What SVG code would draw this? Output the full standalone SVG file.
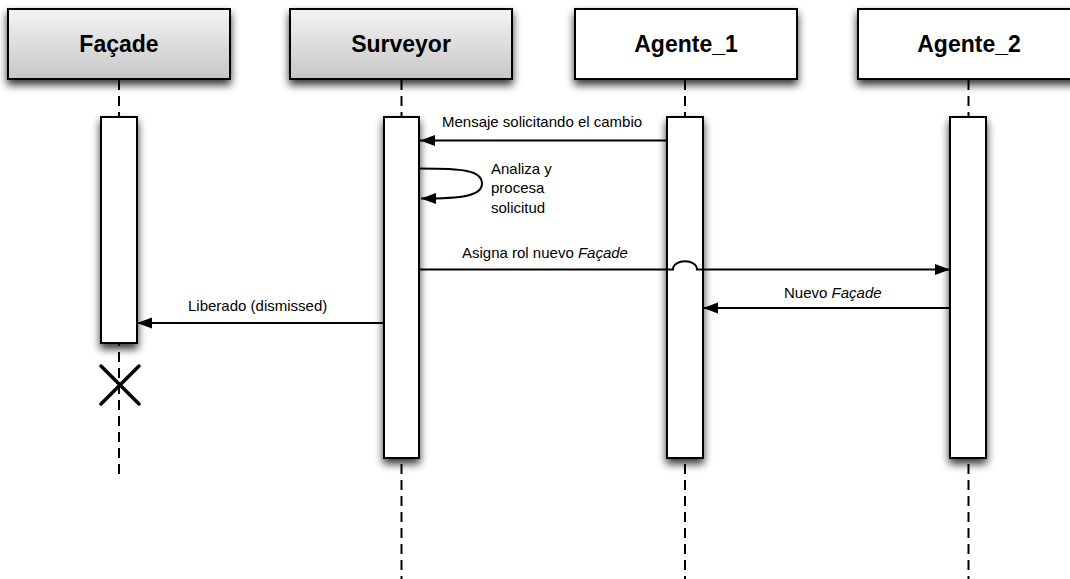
<svg xmlns="http://www.w3.org/2000/svg" width="1070" height="579" viewBox="0 0 1070 579">
  <defs>
    <linearGradient id="headGrad" x1="0" y1="0" x2="0" y2="1">
      <stop offset="0" stop-color="#f4f4f4"/>
      <stop offset="1" stop-color="#c6c6c6"/>
    </linearGradient>
    <filter id="shadow" x="-40%" y="-40%" width="180%" height="180%">
      <feGaussianBlur in="SourceAlpha" stdDeviation="4.5"/>
      <feOffset dx="0" dy="5" result="blur"/>
      <feComponentTransfer><feFuncA type="linear" slope="0.8"/></feComponentTransfer>
      <feMerge><feMergeNode/><feMergeNode in="SourceGraphic"/></feMerge>
    </filter>
    <marker id="arrow" markerUnits="userSpaceOnUse" markerWidth="16" markerHeight="12" refX="15" refY="6" orient="auto">
      <path d="M0,0.5 L15,6 L0,11.5 Z" fill="#000"/>
    </marker>
  </defs>
  <style>
    .head { stroke: #000; stroke-width: 2; }
    .gray { fill: url(#headGrad); }
    .white { fill: #fff; }
    .title { font-family: "Liberation Sans", Arial, sans-serif; font-weight: bold; font-size: 23px; text-anchor: middle; fill: #000; }
    .life { stroke: #000; stroke-width: 2; stroke-dasharray: 10 6; fill: none; }
    .act { fill: #fff; stroke: #000; stroke-width: 2; }
    .msg { stroke: #000; stroke-width: 2; fill: none; marker-end: url(#arrow); }
    .lbl { font-family: "Liberation Sans", Arial, sans-serif; font-size: 15px; fill: #000; }
  </style>

  <rect width="1070" height="579" fill="#fff"/>

  <!-- lifelines -->
  <g id="lifelines">
    <line class="life" x1="119" y1="80" x2="119" y2="478"/>
    <line class="life" x1="401.5" y1="80" x2="401.5" y2="579"/>
    <line class="life" x1="685" y1="80" x2="685" y2="579"/>
    <line class="life" x1="968.5" y1="80" x2="968.5" y2="579"/>
  </g>

  <!-- participants -->
  <g id="facade">
    <rect class="head gray" x="8" y="9" width="222" height="70" filter="url(#shadow)"/>
    <text class="title" x="119" y="52">Façade</text>
    <rect class="act" x="101" y="117" width="36" height="226" filter="url(#shadow)"/>
    <path d="M101,366 L139,404 M139,366 L101,404" stroke="#000" stroke-width="3.5" stroke-linecap="round"/>
  </g>
  <g id="surveyor">
    <rect class="head gray" x="290" y="9" width="222" height="70" filter="url(#shadow)"/>
    <text class="title" x="401" y="52">Surveyor</text>
    <rect class="act" x="384" y="117" width="35" height="341" filter="url(#shadow)"/>
  </g>
  <g id="agente1">
    <rect class="head white" x="575" y="9" width="222" height="70" filter="url(#shadow)"/>
    <text class="title" x="686" y="52">Agente_1</text>
    <rect class="act" x="667" y="117" width="36" height="341" filter="url(#shadow)"/>
  </g>
  <g id="agente2">
    <rect class="head white" x="858" y="9" width="222" height="70" filter="url(#shadow)"/>
    <text class="title" x="969" y="52">Agente_2</text>
    <rect class="act" x="950" y="117" width="36" height="341" filter="url(#shadow)"/>
  </g>

  <!-- messages -->
  <g id="connectors">
    <line class="msg" x1="667" y1="140.5" x2="420" y2="140.5"/>
    <path class="msg" d="M420,168.5 C462,168.5 482,170 482,183.5 C482,196 462,198.5 421,198.5"/>
    <path class="msg" d="M420,269.5 L673,269.5 C673,258.5 697,258.5 697,269.5 L950,269.5"/>
    <line class="msg" x1="950" y1="308" x2="703" y2="308"/>
    <line class="msg" x1="384" y1="323" x2="137" y2="323"/>
  </g>

  <!-- message labels -->
  <g id="labels">
    <text class="lbl" x="442" y="127">Mensaje solicitando el cambio</text>
    <text class="lbl" x="491" y="173.5">Analiza y</text>
    <text class="lbl" x="491" y="193">procesa</text>
    <text class="lbl" x="491" y="212.5">solicitud</text>
    <text class="lbl" x="462" y="258">Asigna rol nuevo <tspan font-style="italic">Façade</tspan></text>
    <text class="lbl" x="784" y="298">Nuevo <tspan font-style="italic">Façade</tspan></text>
    <text class="lbl" x="188" y="311">Liberado (dismissed)</text>
  </g>
</svg>
